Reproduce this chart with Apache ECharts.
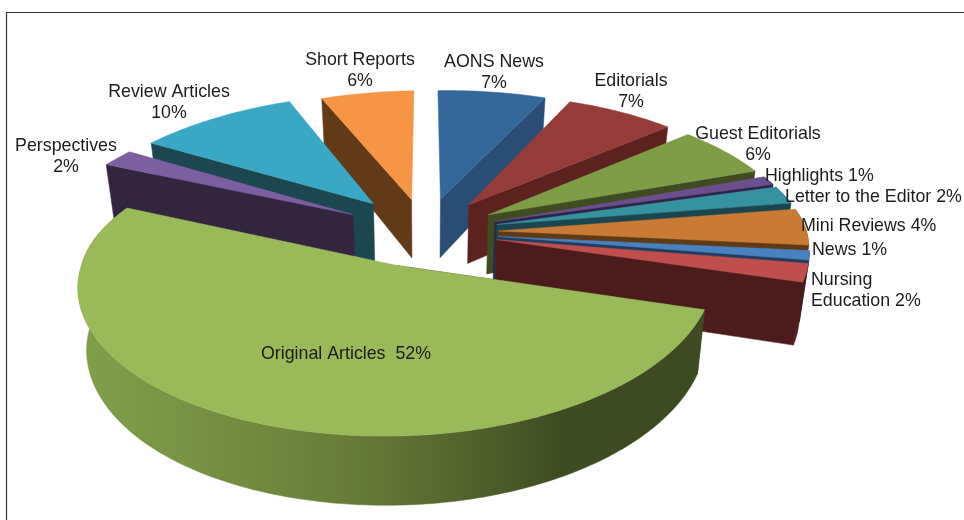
<!DOCTYPE html>
<html><head><meta charset="utf-8">
<style>html,body{margin:0;padding:0;background:#fff}#c{width:964px;height:520px}</style>
<script src="https://cdn.jsdelivr.net/npm/echarts@6/dist/echarts.min.js"></script>
</head><body><div id="c"></div>
<script>
const categories = ['AONS News','Editorials','Guest Editorials','Highlights','Letter to the Editor','Mini Reviews','News','Nursing Education','Original Articles','Perspectives','Review Articles','Short Reports'];
const values = [7,7,6,1,2,4,1,2,52,2,10,6];
const topColors = ['#35689a','#953c3a','#7f9c47','#6a4f8c','#36929f','#c97a35','#4880c0','#bf4e4c','#9aba5a','#7c5fa0','#3aa8c4','#f59545'];
const wallColors = ['#2a4d75','#5b2220','#3f4b20','#2e2348','#1b4650','#5f3a16','#1f3d5f','#4c1c1c','#3d4a22','#34253f','#1d4750','#633a18'];

// camera layout
const CX=425, CY=232, SX=311, SY=144, K_MID=0.16, K_SWING=0.05, EXPLODE=0.24, DEPTH=60, DEPTH_K=0.125, BOTTOM_SHRINK=0.975, TILT=0.014, RIGHT_SHRINK=0.985, LEFT_NEAR_SHRINK=0.012;
const explodeOverride = {'Perspectives':0.27,'Review Articles':0.27};
const total = values.reduce((a,b)=>a+b,0);
let acc=0;
const slices = values.map((v,i)=>{const a0=acc/total*2*Math.PI; acc+=v; const a1=acc/total*2*Math.PI; return {i,a0,a1,mid:(a0+a1)/2};});
const drawOrder = slices.slice().sort((a,b)=>(-Math.cos(a.mid))-(-Math.cos(b.mid)));

function project(u,v){
  const k=K_MID-K_SWING*Math.tanh(2.5*v);
  const w=1-k*v;
  const uu=u>0?u*(1-(1-RIGHT_SHRINK)*Math.max(0,1+v))
              :u*(1-LEFT_NEAR_SHRINK*Math.min(1,Math.max(0,(v+0.2)/0.4)));
  const x=CX+SX*uu/w;
  return [x, CY+SY*v/w-(x-CX)*TILT];
}
function topPt(s,r,a){
  const e=explodeOverride[categories[s.i]]||EXPLODE;
  const eu=e*Math.sin(s.mid), ev=-e*Math.cos(s.mid);
  const u=eu+r*Math.sin(a), v=ev-r*Math.cos(a);
  return {p:project(u,v),v};
}
function botPt(s,r,a){
  const t=topPt(s,r,a);
  return [CX+(t.p[0]-CX)*BOTTOM_SHRINK, t.p[1]+DEPTH*(1+DEPTH_K*t.v)];
}
function arcAngles(s){const n=Math.max(6,Math.ceil((s.a1-s.a0)*60)),r=[];for(let k=0;k<=n;k++)r.push(s.a0+(s.a1-s.a0)*k/n);return r;}

function renderItem(params,api){
  const s=drawOrder[params.dataIndex], i=s.i;
  const angles=arcAngles(s);
  const apexT=topPt(s,0,0).p, apexB=botPt(s,0,0);
  const arcT=angles.map(a=>topPt(s,1,a).p), arcB=angles.map(a=>botPt(s,1,a));
  const poly=(points,fill)=>({type:'polygon',shape:{points},style:{fill,stroke:fill,lineWidth:0.5}});
  const wallFill = categories[i]==='Original Articles'
    ? {type:'linear',x:90,y:0,x2:720,y2:0,global:true,colorStops:[{offset:0,color:'#7f9e4a'},{offset:0.26,color:'#728a3f'},{offset:0.45,color:'#647836'},{offset:0.66,color:'#4a5a28'},{offset:0.74,color:'#3f4c22'},{offset:1,color:'#3d4a22'}]}
    : wallColors[i];
  // only the faces turned towards the viewer are drawn
  const faceEnd = s.mid<Math.PI ? arcT.length-1 : 0;
  const arcFacesAway = Math.min(Math.cos(s.a0),Math.cos(s.a1))>0.3;
  const c=[poly([apexT,arcT[faceEnd],arcB[faceEnd],apexB],wallColors[i])];
  if(!arcFacesAway) c.push(poly(arcT.concat(arcB.slice().reverse()),wallFill));
  c.push(poly([apexT].concat(arcT),topColors[i]));
  return {type:'group',children:c};
}

const labelLayout = {
 'AONS News':{x:494,y:72.5},
 'Editorials':{x:631,y:91.5},
 'Guest Editorials':{x:758,y:144.5},
 'Highlights':{x:765,y:176,oneLine:true,left:true},
 'Letter to the Editor':{x:785,y:197,oneLine:true,left:true},
 'Mini Reviews':{x:801,y:226,oneLine:true,left:true},
 'News':{x:812,y:250,oneLine:true,left:true},
 'Nursing Education':{x:811,y:290.5,left:true,split:true},
 'Original Articles':{x:261,y:354,oneLine:true,left:true,gap:'  '},
 'Perspectives':{x:66,y:156.5},
 'Review Articles':{x:169,y:102.5},
 'Short Reports':{x:360,y:70.5}
};
const textEls = categories.map((c,i)=>{
  const L=labelLayout[c]; let t;
  if(L.split){const parts=c.split(' ');t=parts[0]+'\n'+parts[1]+' '+values[i]+'%';}
  else if(L.oneLine){t=c+(L.gap||' ')+values[i]+'%';}
  else {t=c+'\n'+values[i]+'%';}
  return {type:'text',x:L.x,y:L.y,z:20,style:{text:t,fill:'#1c1c1c',font:'17.8px "Liberation Sans", Arial, sans-serif',lineHeight:21,textAlign:L.left?'left':'center',textVerticalAlign:'middle',verticalAlign:'middle'}};
});

const chart=echarts.init(document.getElementById('c'),null,{renderer:'canvas'});
chart.setOption({
  animation:false,
  backgroundColor:'#ffffff',
  graphic:[{type:'polyline',z:1,shape:{points:[[6.5,530],[6.5,12.5],[970,12.5]]},style:{stroke:'#333',lineWidth:1.2,fill:null}}].concat(textEls),
  series:[{type:'custom',coordinateSystem:'none',silent:true,clip:false,renderItem,
    data:drawOrder.map(s=>({name:categories[s.i],value:values[s.i]})),
    encode:{}}]
});
</script></body></html>
